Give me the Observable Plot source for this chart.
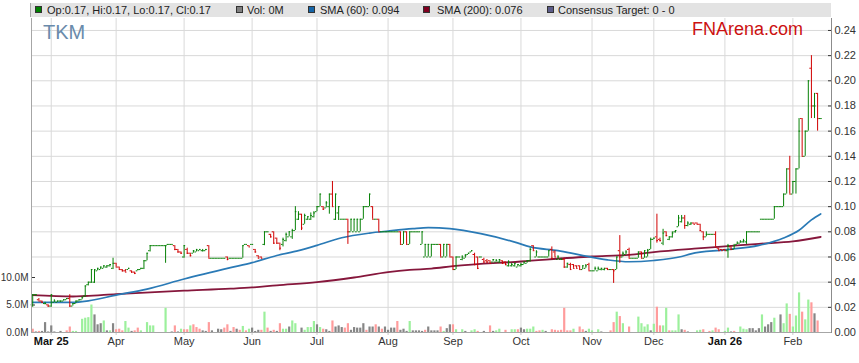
<!DOCTYPE html>
<html><head><meta charset="utf-8">
<script src="https://cdn.jsdelivr.net/npm/d3@7"></script>
<script src="https://cdn.jsdelivr.net/npm/@observablehq/plot@0.6"></script>
<style>
body{margin:0;background:#fff;font-family:"Liberation Sans",Arial,sans-serif;}
#wrap{position:relative;width:859px;height:363px;overflow:hidden;}
#layers > svg{position:absolute;left:0;top:18px;}
#legend{position:absolute;left:30px;top:3px;width:800px;height:14px;background:#e3e3e3;border-left:1px solid #a6a6a6;font-size:11px;color:#222;}
.item{position:absolute;top:0;height:14px;line-height:14px;white-space:nowrap;}
.sw{position:absolute;top:3px;width:5px;height:5px;border:1px solid #333;}
.brand{position:absolute;white-space:nowrap;}
</style></head>
<body><div id="wrap"><div id="layers"></div><div id="legend"></div>
<div id="tkm" class="brand" style="left:43px;top:22px;font-size:20px;line-height:20px;color:#6a8bab;">TKM</div>
<div id="fna" class="brand" style="right:56px;top:20px;font-size:18px;line-height:18px;color:#cc1111;">FNArena.com</div>
</div>
<script>
// ---- data (one entry per weekday, Feb 21 2025 .. Feb 13 2026) ----
const open = [
.022,.030,.026,.025,.023,.022,.021,.024,.024,.025,
.025,.026,.027,.021,.023,.025,.026,.029,.038,.040,
.040,.049,.050,.051,.052,.053,.051,.055,.052,.050,
.049,.050,.049,.048,.049,.050,.051,.057,.065,.069,
.069,.069,.069,.069,.070,.070,.069,.066,.064,.060,
.066,.063,.063,.064,.065,.065,.065,.069,.059,.059,
.059,.059,.059,.060,.059,.059,.059,.059,.059,.070,
.069,.070,.066,.061,.060,.070,.080,.078,.080,.075,
.071,.070,.073,.076,.076,.081,.090,.094,.086,.090,
.090,.092,.096,.100,.100,.099,.100,.110,.090,.095,
.090,.090,.090,.080,.080,.080,.080,.090,.100,.100,
.100,.090,.090,.080,.080,.080,.080,.080,.080,.080,
.070,.080,.070,.080,.080,.080,.070,.060,.060,.060,
.070,.070,.070,.060,.060,.070,.060,.050,.060,.058,
.059,.062,.064,.062,.060,.060,.058,.057,.057,.056,
.056,.056,.057,.056,.053,.053,.053,.052,.053,.054,
.055,.057,.069,.060,.060,.060,.060,.060,.066,.064,
.058,.058,.058,.052,.054,.054,.053,.053,.050,.051,
.054,.049,.049,.049,.050,.050,.051,.050,.050,.050,
.065,.060,.062,.066,.059,.059,.059,.064,.059,.060,
.066,.074,.076,.074,.071,.080,.074,.076,.080,.084,
.088,.091,.085,.086,.087,.087,.086,.080,.076,.078,
.078,.078,.067,.066,.066,.065,.068,.066,.070,.071,
.072,.072,.080,.080,.080,.080,.090,.090,.090,.090,
.090,.100,.100,.100,.110,.130,.110,.120,.130,.170,
.140,.160,.210,.180,.190,.170];
const high = [
.030,.030,.027,.025,.024,.022,.030,.026,.025,.025,
.026,.027,.030,.023,.025,.026,.028,.037,.040,.050,
.050,.051,.052,.053,.053,.054,.059,.055,.052,.050,
.050,.051,.049,.048,.050,.051,.057,.063,.069,.069,
.069,.069,.069,.069,.070,.070,.069,.066,.064,.069,
.067,.063,.065,.066,.066,.066,.066,.069,.059,.059,
.059,.059,.059,.060,.059,.059,.059,.059,.069,.070,
.069,.070,.066,.061,.060,.080,.080,.078,.080,.075,
.071,.075,.079,.080,.082,.100,.096,.094,.094,.092,
.095,.096,.100,.110,.100,.104,.110,.120,.110,.100,
.090,.090,.090,.090,.090,.090,.090,.100,.100,.110,
.100,.090,.090,.080,.080,.080,.080,.080,.080,.080,
.080,.080,.080,.080,.080,.080,.080,.070,.070,.070,
.070,.070,.070,.070,.070,.070,.060,.060,.060,.061,
.062,.063,.065,.063,.060,.060,.059,.058,.057,.058,
.058,.058,.057,.056,.057,.055,.055,.054,.055,.056,
.057,.067,.069,.065,.060,.060,.060,.065,.068,.065,
.061,.059,.059,.055,.055,.054,.053,.053,.053,.054,
.055,.049,.052,.052,.051,.051,.051,.050,.050,.060,
.077,.064,.065,.067,.059,.059,.064,.064,.065,.066,
.075,.075,.094,.075,.082,.080,.076,.080,.081,.093,
.093,.093,.088,.087,.087,.087,.086,.080,.080,.078,
.078,.080,.067,.066,.066,.070,.068,.070,.072,.073,
.074,.080,.080,.080,.080,.080,.090,.090,.090,.090,
.100,.100,.100,.110,.130,.140,.120,.130,.170,.170,
.160,.200,.220,.190,.190,.170];
const low = [
.020,.029,.025,.023,.022,.020,.020,.024,.024,.024,
.025,.026,.020,.021,.023,.025,.026,.028,.037,.039,
.039,.049,.050,.051,.051,.052,.050,.052,.050,.048,
.048,.050,.047,.046,.049,.050,.050,.057,.064,.069,
.069,.069,.069,.055,.070,.070,.065,.063,.062,.059,
.062,.060,.063,.064,.065,.064,.065,.059,.059,.059,
.059,.059,.059,.057,.059,.059,.059,.059,.059,.070,
.068,.070,.063,.059,.059,.069,.080,.075,.070,.070,
.065,.068,.072,.076,.074,.081,.089,.081,.086,.089,
.089,.091,.096,.100,.097,.099,.094,.100,.089,.089,
.090,.090,.070,.080,.080,.080,.080,.090,.100,.100,
.090,.090,.080,.080,.080,.080,.080,.080,.080,.070,
.070,.070,.070,.080,.080,.080,.070,.060,.060,.060,
.070,.070,.060,.060,.060,.060,.050,.050,.060,.057,
.059,.062,.064,.053,.050,.060,.055,.055,.055,.056,
.056,.055,.054,.053,.052,.052,.052,.052,.052,.054,
.055,.056,.065,.060,.060,.060,.060,.060,.058,.060,
.058,.058,.051,.051,.050,.051,.051,.050,.050,.051,
.049,.049,.049,.049,.049,.049,.050,.050,.039,.050,
.055,.060,.062,.059,.059,.059,.059,.059,.059,.060,
.066,.074,.071,.072,.069,.076,.073,.075,.079,.084,
.087,.082,.084,.085,.086,.086,.080,.073,.076,.078,
.078,.068,.065,.065,.065,.059,.065,.066,.070,.071,
.071,.070,.080,.080,.080,.080,.090,.090,.090,.090,
.090,.100,.100,.100,.110,.110,.110,.110,.130,.140,
.140,.160,.170,.170,.160,.170];
const close = [
.030,.030,.025,.024,.023,.021,.030,.025,.025,.025,
.026,.027,.021,.023,.025,.026,.028,.037,.040,.050,
.050,.051,.052,.053,.053,.054,.055,.052,.050,.049,
.048,.051,.048,.047,.050,.051,.057,.063,.069,.069,
.069,.069,.069,.069,.070,.070,.066,.064,.063,.069,
.063,.061,.065,.066,.066,.065,.066,.059,.059,.059,
.059,.059,.059,.058,.059,.059,.059,.059,.069,.070,
.068,.070,.064,.059,.059,.080,.080,.076,.071,.071,
.067,.074,.078,.080,.081,.096,.094,.083,.093,.092,
.093,.095,.100,.110,.098,.103,.110,.100,.110,.100,
.090,.090,.080,.090,.090,.090,.090,.100,.100,.110,
.090,.090,.080,.080,.080,.080,.080,.080,.080,.070,
.080,.070,.080,.080,.080,.080,.080,.070,.070,.070,
.070,.070,.060,.070,.070,.060,.050,.060,.060,.060,
.061,.063,.065,.054,.051,.060,.056,.056,.055,.058,
.057,.058,.055,.054,.056,.054,.055,.054,.054,.056,
.057,.066,.065,.064,.060,.060,.060,.065,.059,.060,
.060,.058,.052,.055,.050,.051,.051,.050,.053,.053,
.049,.049,.051,.051,.051,.051,.050,.050,.049,.060,
.060,.063,.064,.059,.059,.059,.064,.059,.065,.065,
.074,.075,.073,.073,.079,.077,.076,.079,.081,.091,
.091,.085,.087,.087,.086,.086,.081,.076,.078,.078,
.078,.068,.065,.065,.065,.069,.066,.069,.071,.072,
.073,.080,.080,.080,.080,.080,.090,.090,.090,.090,
.100,.100,.100,.110,.130,.110,.120,.130,.160,.140,
.160,.200,.180,.180,.170,.170];
// volume in millions of shares
const volume = [
0.6,0.1,0.2,0.2,1.8,0.1,1.2,0.1,0,0.2,
0,0.3,1.0,0.2,0.2,0,2.4,2.6,2.7,5.0,
3.2,1.4,1.6,2.1,0.3,0.3,1.6,0.5,0.6,0.3,
2.0,0.8,0.2,0.3,0.8,0.3,0,1.8,1.2,1.2,
0,0,0,4.4,0,0.1,1.2,0.1,0.6,0.5,
0.5,1.2,1.4,0.9,0.6,0.3,0.2,1.8,0.3,0,
0.6,0.5,0.8,1.4,0.2,0.9,0.6,0.4,1.1,0.3,
0.6,0.8,0.2,0.4,0.4,3.7,0.8,0.2,0.4,0.2,
1.6,0.6,0.6,1.0,2.1,1.6,0,0.8,0.4,0.9,
0.9,2.0,1.4,0.9,0.6,0.5,0.2,2.1,1.0,1.2,
0.9,0.8,1.6,0.4,0.9,0.8,0.8,1.6,0.4,1.0,
1.0,1.4,1.0,0.6,1.0,0.4,0.8,0.8,2.0,0.4,
0.6,0.2,2.0,0.3,0.3,0.3,0.2,0.4,1.0,0.3,
0.3,0.3,1.0,0.2,0.7,1.4,1.4,0.5,0,0.5,
0.2,0,0.3,0.5,0.2,0,0.2,0,1.2,0.2,
0.3,0.6,0,0.4,0,0.5,0.5,0.5,0.8,0.5,
0.6,0.6,1.0,0.2,0.3,0.4,0.2,0,0.5,0.4,
0.3,0.4,4.4,0.3,0.3,0.6,0,1.0,0.5,0.2,
0.6,0.3,0,0.5,0.1,0,0,0.3,1.8,3.7,
2.9,1.6,0,1.0,0,0,2.8,1.6,1.0,1.4,
0.3,1.5,4.6,1.2,1.2,4.4,0.3,0.3,0.3,3.2,
0.5,0.4,0.1,0,0,0.3,0.4,0.5,0,0.2,
0.3,0.8,0.5,0,0.2,0.8,0.1,0.2,0,1.0,
0.6,0.5,0.7,0.7,0.3,0.7,3.2,1.0,1.4,1.8,
2.6,0,3.2,1.6,5.2,3.3,1.0,3.0,7.2,3.7,
2.3,5.9,5.4,3.4,2.1,0];
// volume bar direction: u = up, d = down, f = unchanged
const volumeTrend = [
"d","f","d","f","f","f","f","f","f","f",
"f","d","d","u","u","f","u","u","u","u",
"f","f","f","u","f","u","f","d","d","d",
"u","u","f","d","d","u","f","u","u","u",
"f","f","f","u","f","f","d","f","u","d",
"d","u","d","d","d","f","f","d","f","f",
"f","f","d","d","f","d","f","d","u","d",
"u","f","f","f","d","u","d","f","d","f",
"d","u","u","f","u","u","f","f","u","u",
"u","u","f","u","d","f","f","d","f","f",
"f","d","d","f","f","f","f","f","d","f",
"f","d","f","d","f","f","f","f","d","f",
"f","f","u","f","f","f","f","d","f","f",
"f","f","d","u","f","f","d","u","f","u",
"f","f","u","u","d","f","f","f","d","f",
"u","u","f","d","f","u","u","d","f","f",
"u","u","u","d","d","u","f","f","d","d",
"d","d","d","d","d","u","f","d","d","f",
"u","u","f","u","f","f","f","d","d","u",
"d","u","f","d","f","f","u","u","u","u",
"f","u","d","d","u","u","d","u","u","u",
"f","d","f","f","f","u","u","d","f","d",
"u","d","d","f","u","u","f","d","f","u",
"u","u","f","f","f","f","u","f","f","f",
"u","f","f","u","u","d","u","u","u","d",
"u","u","d","f","d","f"];
// moving averages read at sample bars
const sma60Bar = [0,13,18,27,37,49,64,71,79,86,92,100,109,115,123,128,135,145,156,161,170,177,186,193,201,210,213,224,235,243,248,252,255];
const sma60 = [0.0240,0.0240,0.0252,0.0297,0.0345,0.0425,0.0515,0.0555,0.0612,0.0650,0.0692,0.0753,0.0790,0.0806,0.0825,0.0833,0.0825,0.0785,0.0718,0.0680,0.0650,0.0617,0.0577,0.0562,0.0572,0.0604,0.0625,0.0657,0.0692,0.0751,0.0812,0.0895,0.0942];
const sma200Bar = [0,13,17,27,49,64,71,79,92,104,115,122,129,136,158,181,193,201,214,224,235,246,255];
const sma200 = [0.0297,0.0286,0.0290,0.0305,0.0332,0.0348,0.0358,0.0375,0.0400,0.0437,0.0479,0.0497,0.0508,0.0527,0.0564,0.0604,0.0617,0.0639,0.0666,0.0684,0.0705,0.0724,0.0759];
const monthBar = [6,27,49,71,92,115,136,158,181,201,224,246];
const monthLabels = ["Mar 25","Apr","May","Jun","Jul","Aug","Sep","Oct","Nov","Dec","Jan 26","Feb"];
const priceTicks = [0,0.02,0.04,0.06,0.08,0.10,0.12,0.14,0.16,0.18,0.20,0.22,0.24];
const volumeTicks = [0,5,10];

// ---- colours ----
const GREEN = "#078107", RED = "#d00000";
const volColor = {u:"#9cf09c", d:"#ff9c9c", f:"#868686"};
const SMA60C = "#2a7ab6", SMA200C = "#86173c";

const bars = d3.range(close.length);
const barColor = bars.map(i => close[i] >= open[i] ? GREEN : RED);
const labelOf = new Map(monthBar.map((b,k)=>[b, monthLabels[k]]));
const bold = new Set(["Mar 25","Jan 26"]);

const W = 859, H = 345;
const font = "Liberation Sans, Arial, sans-serif";
const base = {
  width: W, height: H, marginLeft: 31, marginRight: 28, marginTop: 0, marginBottom: 31,
  x: {type: "linear", domain: [-0.39, 258.5], axis: null},
  style: {background: "transparent", fontFamily: font, fontSize: "11px", color: "#333", overflow: "visible"}
};
const priceY = {domain: [0, 0.2495], axis: null};

// layer 1: grid
const grid = Plot.plot({...base, y: priceY, marks: [
  Plot.ruleY(priceTicks.filter(t => t > 0), {stroke: "#d9d9d9"}),
  Plot.ruleX(monthBar, {stroke: "#d9d9d9"})
]});

// layer 2: volume
const vol = Plot.plot({...base, y: {domain: [0, 57.1], axis: null}, marks: [
  Plot.ruleX(bars.filter(i => volume[i] > 0), {x: i => i, y1: 0, y2: i => volume[i], stroke: i => volColor[volumeTrend[i]], strokeWidth: 2.2}),
  Plot.axisY(volumeTicks, {anchor: "left", tickSize: 0, tickPadding: 3, fontSize: 10, tickFormat: d => d.toFixed(1) + "M"}),
  Plot.axisY(volumeTicks, {anchor: "left", tickSize: 4, dx: 4, stroke: "#333", tickFormat: () => ""})
]});

// layer 3: price
const price = Plot.plot({...base, y: priceY, marks: [
  Plot.line(sma200Bar, {x: d => d, y: (d,k) => sma200[k], curve: "monotone-x", stroke: SMA200C, strokeWidth: 1.8}),
  Plot.line(sma60Bar, {x: d => d, y: (d,k) => sma60[k], curve: "monotone-x", stroke: SMA60C, strokeWidth: 1.7}),
  Plot.ruleX(bars, {x: i => i, y1: i => low[i], y2: i => high[i], stroke: i => barColor[i], strokeWidth: 1}),
  Plot.ruleY(bars, {y: i => open[i], x1: i => i - 0.5, x2: i => i, stroke: i => barColor[i], strokeWidth: 1}),
  Plot.ruleY(bars, {y: i => close[i], x1: i => i, x2: i => i + 0.5, stroke: i => barColor[i], strokeWidth: 1}),
  Plot.axisY(priceTicks, {anchor: "right", tickSize: 0, tickPadding: 3, tickFormat: d => d.toFixed(2)}),
  Plot.axisY(priceTicks, {anchor: "right", tickSize: 4, dx: -4, stroke: "#333", tickFormat: () => ""}),
  Plot.axisX(monthBar.filter(b => !bold.has(labelOf.get(b))), {tickSize: 3, tickPadding: 2, stroke: "#c8c8c8", tickFormat: b => labelOf.get(b)}),
  Plot.axisX(monthBar.filter(b => bold.has(labelOf.get(b))), {tickSize: 3, tickPadding: 2, stroke: "#c8c8c8", fontWeight: "bold", fill: "#111", tickFormat: b => labelOf.get(b)}),
  Plot.frame({anchor: "left", stroke: "#a6a6a6"}),
  Plot.frame({anchor: "bottom", stroke: "#a6a6a6"}),
  Plot.frame({anchor: "right", stroke: "#8c8c8c"})
]});

const layers = document.getElementById("layers");
layers.append(grid, vol, price);

// legend
const last = close.length - 1;
const f2 = v => v.toFixed(2);
const legendItems = [
  {sw: 4, tx: 16, color: "#008000", text: `Op:${f2(open[last])}, Hi:${f2(high[last])}, Lo:${f2(low[last])}, Cl:${f2(close[last])}`},
  {sw: 205, tx: 216, color: "#808080", text: `Vol: ${Math.round(volume[last])}M`},
  {sw: 277, tx: 289, color: "#1565a8", text: `SMA (60): ${sma60[sma60.length-1].toFixed(3)}`},
  {sw: 392, tx: 406, color: "#800020", text: `SMA (200): ${sma200[sma200.length-1].toFixed(3)}`},
  {sw: 516, tx: 527, color: "#5c5c8a", text: "Consensus Target: 0 - 0"}
];
const legend = document.getElementById("legend");
for (const it of legendItems) {
  const s = document.createElement("div"); s.className = "sw";
  s.style.left = it.sw + "px"; s.style.background = it.color; legend.append(s);
  const t = document.createElement("div"); t.className = "item";
  t.style.left = it.tx + "px"; t.textContent = it.text; legend.append(t);
}
</script>
</body></html>
